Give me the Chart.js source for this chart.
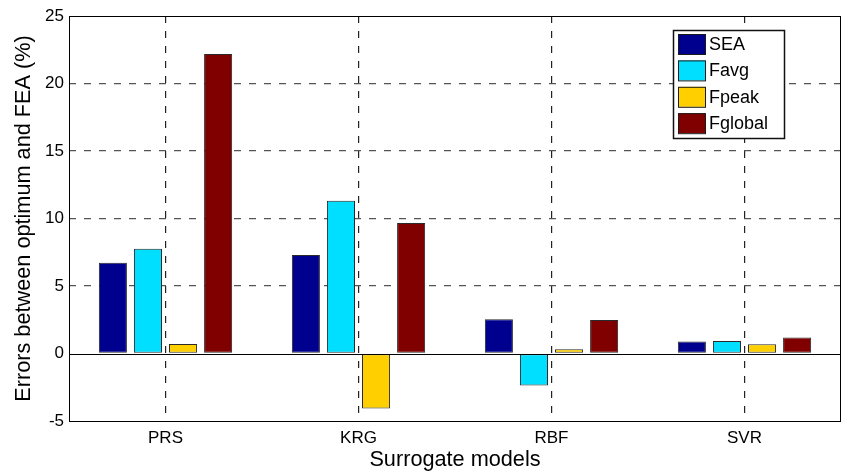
<!DOCTYPE html>
<html>
<head>
<meta charset="utf-8">
<script src="https://cdn.jsdelivr.net/npm/chart.js@4.4.1/dist/chart.umd.min.js"></script>
<style>
  html, body { margin: 0; padding: 0; background: #fff; }
  #wrap { width: 842px; height: 471px; }
</style>
</head>
<body>
<div id="wrap"><canvas id="c" width="842" height="471"></canvas></div>
<script>
// ---- data ----
const categories = ['PRS', 'KRG', 'RBF', 'SVR'];
const seriesNames = ['SEA', 'Favg', 'Fpeak', 'Fglobal'];
const SEA     = [6.72, 7.29, 2.54, 0.89];
const Favg    = [7.76, 11.32, -2.37, 0.93];
const Fpeak   = [0.71, -4.08, 0.32, 0.69];
const Fglobal = [22.18, 9.67, 2.49, 1.19];
const yTicks  = [-5, 0, 5, 10, 15, 20, 25];

const colors = ['#00008F', '#00DFFF', '#FFCF00', '#800000'];
const FONT = '"Liberation Sans", Arial, Helvetica, sans-serif';
const CLEAR = 'rgba(0,0,0,0)';

const seriesValues = [SEA, Favg, Fpeak, Fglobal];
const datasets = seriesNames.map((name, i) => ({
  label: name,
  data: seriesValues[i],
  backgroundColor: colors[i],
  borderColor: '#2a2a2a',
  borderWidth: 1,
  borderSkipped: false,
  categoryPercentage: 0.727,
  barPercentage: 0.8
}));

const framePlugin = {
  id: 'frame',
  afterDatasetsDraw(chart) {
    const {ctx, chartArea: a, scales} = chart;
    ctx.save();
    const y0 = Math.round(scales.y.getPixelForValue(0)) + 0.5;
    ctx.strokeStyle = '#000';
    ctx.lineWidth = 1;
    ctx.beginPath();
    ctx.moveTo(a.left, y0);
    ctx.lineTo(a.right, y0);
    ctx.stroke();
    ctx.strokeRect(Math.round(a.left) + 0.5, Math.round(a.top) + 0.5,
                   Math.round(a.right - a.left) - 1, Math.round(a.bottom - a.top));
    ctx.restore();
  },
  afterDraw(chart) {
    const {ctx} = chart;
    const bx = 673, by = 30, bw = 111, bh = 108;
    ctx.save();
    ctx.fillStyle = '#fff';
    ctx.fillRect(bx, by, bw, bh);
    ctx.strokeStyle = '#111';
    ctx.lineWidth = 1.5;
    ctx.strokeRect(bx + 0.5, by + 0.5, bw, bh);
    ctx.font = '18px ' + FONT;
    ctx.textBaseline = 'middle';
    ctx.textAlign = 'left';
    chart.data.datasets.forEach((ds, i) => {
      const sy = 34 + i * 26.4;
      ctx.fillStyle = ds.backgroundColor;
      ctx.fillRect(678, sy, 27.5, 20);
      ctx.lineWidth = 1;
      ctx.strokeStyle = '#1a1a1a';
      ctx.strokeRect(678.5, sy + 0.5, 27, 20);
      ctx.fillStyle = '#000';
      ctx.fillText(ds.label, 709, sy + 11);
    });
    ctx.restore();
  }
};

new Chart(document.getElementById('c'), {
  type: 'bar',
  data: { labels: categories, datasets },
  options: {
    responsive: false,
    animation: false,
    devicePixelRatio: 1,
    layout: { padding: { top: 16, right: 1, left: 0, bottom: 0 } },
    plugins: { legend: { display: false }, tooltip: { enabled: false } },
    scales: {
      x: {
        offset: true,
        grid: {
          offset: false, lineWidth: 1.2, drawTicks: false,
          color: (c) => (c.index !== undefined && c.index < categories.length) ? '#222' : CLEAR
        },
        border: { display: false, dash: [7, 8] },
        ticks: { color: '#000', font: { family: FONT, size: 17 }, padding: 7, maxRotation: 0 },
        title: { display: true, text: 'Surrogate models', color: '#000',
                 font: { family: FONT, size: 21.7, lineHeight: 1 }, padding: { top: 0, bottom: 0 } },
        afterFit(scale) { scale.height = 50; }
      },
      y: {
        min: -5, max: 25,
        afterBuildTicks(scale) { scale.ticks = yTicks.map(v => ({ value: v })); },
        grid: {
          lineWidth: 1.3, drawTicks: false,
          color: (c) => (c.tick && (c.tick.value === 25 || c.tick.value === -5 || c.tick.value === 0)) ? CLEAR : '#555'
        },
        border: { display: false, dash: [7, 8] },
        ticks: { color: '#000', font: { family: FONT, size: 17 }, padding: 5 },
        title: { display: true, text: 'Errors between optimum and FEA (%)', color: '#000',
                 font: { family: FONT, size: 21.7, lineHeight: 1 }, padding: { top: 13, bottom: 0 } },
        afterFit(scale) { scale.width = 69; }
      }
    }
  },
  plugins: [framePlugin]
});
</script>
</body>
</html>
